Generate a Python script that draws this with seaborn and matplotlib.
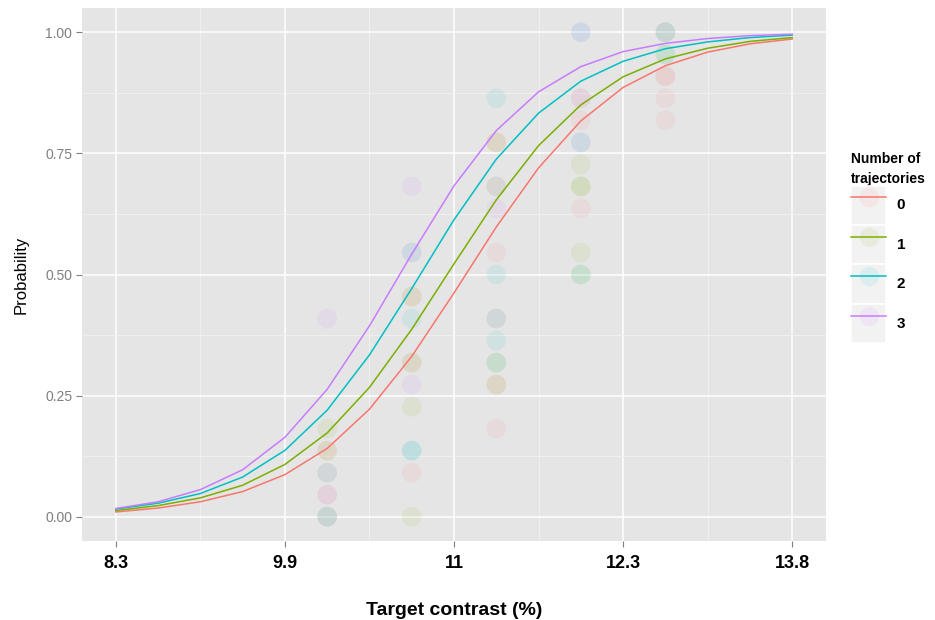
import matplotlib
matplotlib.use("Agg")
import matplotlib.pyplot as plt
from matplotlib.lines import Line2D
from matplotlib.patches import Rectangle
from matplotlib.legend_handler import HandlerTuple
import seaborn as sns
import pandas as pd
from matplotlib import font_manager

# ---------------- data ----------------
tick_pos = [0, 1, 2, 3, 4]
tick_labels = ["8.3", "9.9", "11", "12.3", "13.8"]
groups = ["0", "1", "2", "3"]
colors = ["#F8766D", "#7CAE00", "#00BFC4", "#C77CFF"]

curve_x = [0, 0.25, 0.5, 0.75, 1.0, 1.25, 1.5, 1.75, 2.0, 2.25, 2.5, 2.75, 3.0, 3.25, 3.5, 3.75, 4.0]
curve_p0 = [0.010, 0.018, 0.031, 0.052, 0.087, 0.141, 0.222, 0.331, 0.462, 0.598, 0.720, 0.817, 0.886, 0.931, 0.959, 0.976, 0.986]
curve_p1 = [0.013, 0.023, 0.039, 0.065, 0.108, 0.173, 0.267, 0.387, 0.522, 0.654, 0.766, 0.850, 0.908, 0.945, 0.967, 0.981, 0.989]
curve_p2 = [0.016, 0.028, 0.048, 0.082, 0.137, 0.220, 0.334, 0.471, 0.613, 0.738, 0.833, 0.899, 0.940, 0.966, 0.980, 0.989, 0.994]
curve_p3 = [0.017, 0.031, 0.056, 0.097, 0.164, 0.263, 0.394, 0.542, 0.683, 0.797, 0.877, 0.929, 0.960, 0.977, 0.987, 0.993, 0.996]

# observed proportions (out of 22 trials)
obs_x = ([1.25] * 11 + [1.75] * 14 + [2.25] * 16 + [2.75] * 14 + [3.25] * 9)
obs_k = ([9, 4, 3, 3, 2, 2, 1, 1, 0, 0, 0,
          15, 12, 12, 10, 10, 9, 7, 7, 6, 5, 3, 3, 2, 0,
          19, 17, 17, 15, 15, 14, 12, 11, 9, 9, 8, 7, 7, 6, 6, 4,
          22, 22, 19, 19, 18, 17, 17, 16, 15, 15, 14, 12, 11, 11,
          22, 22, 22, 21, 21, 20, 20, 19, 18])
obs_g = (["3", "1", "1", "0", "0", "2", "3", "0", "1", "2", "3",
          "3", "3", "2", "1", "0", "2", "0", "1", "3", "1", "2", "2", "0", "1",
          "2", "1", "0", "3", "1", "3", "0", "2", "0", "2", "2", "2", "1", "1", "0", "0",
          "2", "3", "3", "0", "0", "3", "2", "1", "1", "1", "0", "1", "1", "2",
          "1", "2", "3", "1", "2", "0", "0", "0", "0"])
n_trials = 22

# ---------------- frames ----------------
curves = pd.DataFrame({
    "x": curve_x * 4,
    "p": curve_p0 + curve_p1 + curve_p2 + curve_p3,
    "group": [g for g in groups for _ in curve_x],
})
points = pd.DataFrame({"x": obs_x, "p": [k / n_trials for k in obs_k], "group": obs_g})

# ---------------- fonts ----------------
names = {f.name for f in font_manager.fontManager.ttflist}
narrow = "Liberation Sans Narrow" if "Liberation Sans Narrow" in names else "Liberation Sans"
plt.rcParams["font.family"] = ["Liberation Sans", "DejaVu Sans"]

# ---------------- figure ----------------
fig = plt.figure(figsize=(9.35, 6.2), dpi=100)
ax = fig.add_axes([82 / 935, 79 / 620, 744 / 935, 533 / 620])
ax.set_facecolor("#E5E5E5")
pal = dict(zip(groups, colors))

sns.scatterplot(data=points, x="x", y="p", hue="group", palette=pal, hue_order=groups,
                s=200, alpha=0.09, edgecolor="none", legend=False, ax=ax, zorder=3)
sns.lineplot(data=curves, x="x", y="p", hue="group", palette=pal, hue_order=groups,
             linewidth=1.1, legend=False, ax=ax, zorder=4)

ax.set_xlim(-0.2, 4.2)
ax.set_ylim(-0.05, 1.05)
ax.set_xticks(tick_pos)
ax.set_xticklabels(tick_labels)
ax.set_xticks([0.5, 1.5, 2.5, 3.5], minor=True)
yt = [0, 0.25, 0.5, 0.75, 1.0]
ax.set_yticks(yt)
ax.set_yticklabels([f"{v:.2f}" for v in yt])
ax.set_yticks([0.125, 0.375, 0.625, 0.875], minor=True)

ax.grid(which="major", color="white", linewidth=1.1, zorder=1)
ax.grid(which="minor", color="#F2F2F2", linewidth=0.6, zorder=1)
ax.set_axisbelow(True)
for s in ax.spines.values():
    s.set_visible(False)

ax.tick_params(axis="both", which="major", length=4, color="#7F7F7F", width=0.8)
ax.tick_params(axis="both", which="minor", length=0)
ax.tick_params(axis="y", labelsize=10, labelcolor="#7F7F7F", pad=3)
ax.tick_params(axis="x", pad=6)
for lab in ax.get_xticklabels():
    lab.set_fontfamily([narrow, "DejaVu Sans"])
    lab.set_fontsize(13)
    lab.set_fontweight("bold")
    lab.set_color("black")

ax.set_xlabel("Target contrast (%)", fontsize=14, fontweight="bold",
              family=[narrow, "DejaVu Sans"], labelpad=22)
ax.set_ylabel("Probability", fontsize=12, color="black", labelpad=12)

# ---------------- legend ----------------
handles = []
for c in colors:
    bg = Rectangle((0, 0), 1, 1, facecolor="#F2F2F2", edgecolor="white", linewidth=1.2)
    pt = Line2D([], [], marker="o", markersize=14, markerfacecolor=c, alpha=0.09,
                markeredgecolor="none", linestyle="none")
    ln = Line2D([], [], color=c, linewidth=1.1)
    handles.append((bg, pt, ln))

leg = fig.legend(handles, groups, title="Number of\ntrajectories",
                 handler_map={tuple: HandlerTuple(ndivide=1, pad=0)},
                 loc="upper left", bbox_to_anchor=(851 / 935, (620 - 152) / 620),
                 frameon=False, fontsize=11, handlelength=2.3, handleheight=3.6,
                 labelspacing=0.0, handletextpad=0.7, borderpad=0, borderaxespad=0,
                 alignment="left")
leg.get_title().set_fontweight("bold")
leg.get_title().set_fontfamily([narrow, "DejaVu Sans"])
leg.get_title().set_fontsize(10)
leg.get_title().set_linespacing(1.5)
for t in leg.get_texts():
    t.set_fontweight("bold")

fig.savefig("out.png", dpi=100, facecolor="white")
